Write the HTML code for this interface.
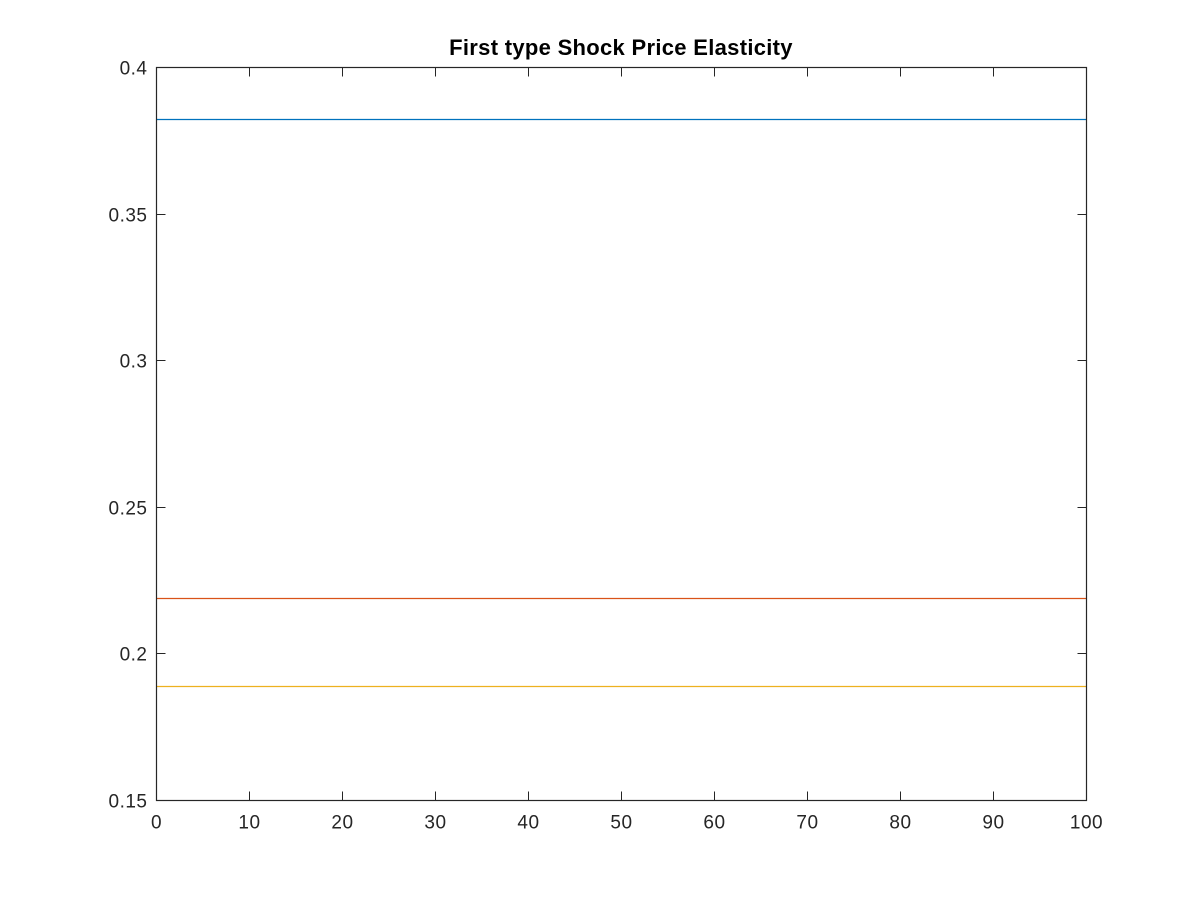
<!DOCTYPE html>
<html><head><meta charset="utf-8"><style>
html,body{margin:0;padding:0;background:#fff;}
svg{display:block;font-family:"Liberation Sans",Arial,sans-serif;}
</style></head><body>
<svg id="chart" width="1200" height="900">
<rect width="1200" height="900" fill="#fff"/>
<text x="621" y="55" text-anchor="middle" font-size="22" font-weight="bold" letter-spacing="0.3" fill="#000">First type Shock Price Elasticity</text>
<g id="axes"></g>
</svg>
<script>
const xTicks=[0,10,20,30,40,50,60,70,80,90,100];
const yTicks=[0.15,0.2,0.25,0.3,0.35,0.4];
const yTickLabels=["0.15","0.2","0.25","0.3","0.35","0.4"];
const seriesNames=["series-1","series-2","series-3"];
const seriesColors=["#0072BD","#D95319","#EDB120"];
const seriesValues=[0.3823,0.2189,0.1889];
const xStart=0, xEnd=100;
const L=156.5,R=1086.5,T=67.5,B=800.5;
const sx=v=>L+(v-0)/(100-0)*(R-L);
const sy=v=>B-(v-0.15)/(0.4-0.15)*(B-T);
const g=document.getElementById('axes');
const NS="http://www.w3.org/2000/svg";
function mk(t,a){const e=document.createElementNS(NS,t);for(const k in a)e.setAttribute(k,a[k]);g.appendChild(e);return e;}
seriesValues.forEach((v,i)=>{
 const y=Math.round(sy(v))+0.5;
 const l=mk('line',{x1:sx(xStart),x2:sx(xEnd),y1:y,y2:y,stroke:seriesColors[i],'stroke-width':1.2});
 
 
});
const f=mk('rect',{x:L,y:T,width:R-L,height:B-T,fill:'none',stroke:'#262626','stroke-width':1.2});


xTicks.forEach(v=>{
 const x=Math.round(sx(v)-0.5)+0.5;
 mk('line',{x1:x,x2:x,y1:B,y2:B-9,stroke:'#262626'});
 mk('line',{x1:x,x2:x,y1:T,y2:T+9,stroke:'#262626'});
 const t=mk('text',{x:x,y:B+28,'text-anchor':'middle','font-size':19,'letter-spacing':0.5,fill:'#262626'});
 t.textContent=v;
 
 
});
yTicks.forEach((v,i)=>{
 const y=Math.round(sy(v)-0.5)+0.5;
 mk('line',{x1:L,x2:L+9,y1:y,y2:y,stroke:'#262626'});
 mk('line',{x1:R,x2:R-9,y1:y,y2:y,stroke:'#262626'});
 const t=mk('text',{x:L-9,y:y+7,'text-anchor':'end','font-size':19,'letter-spacing':0.5,fill:'#262626'});
 t.textContent=yTickLabels[i];
 
 
});
</script>
</body></html>
